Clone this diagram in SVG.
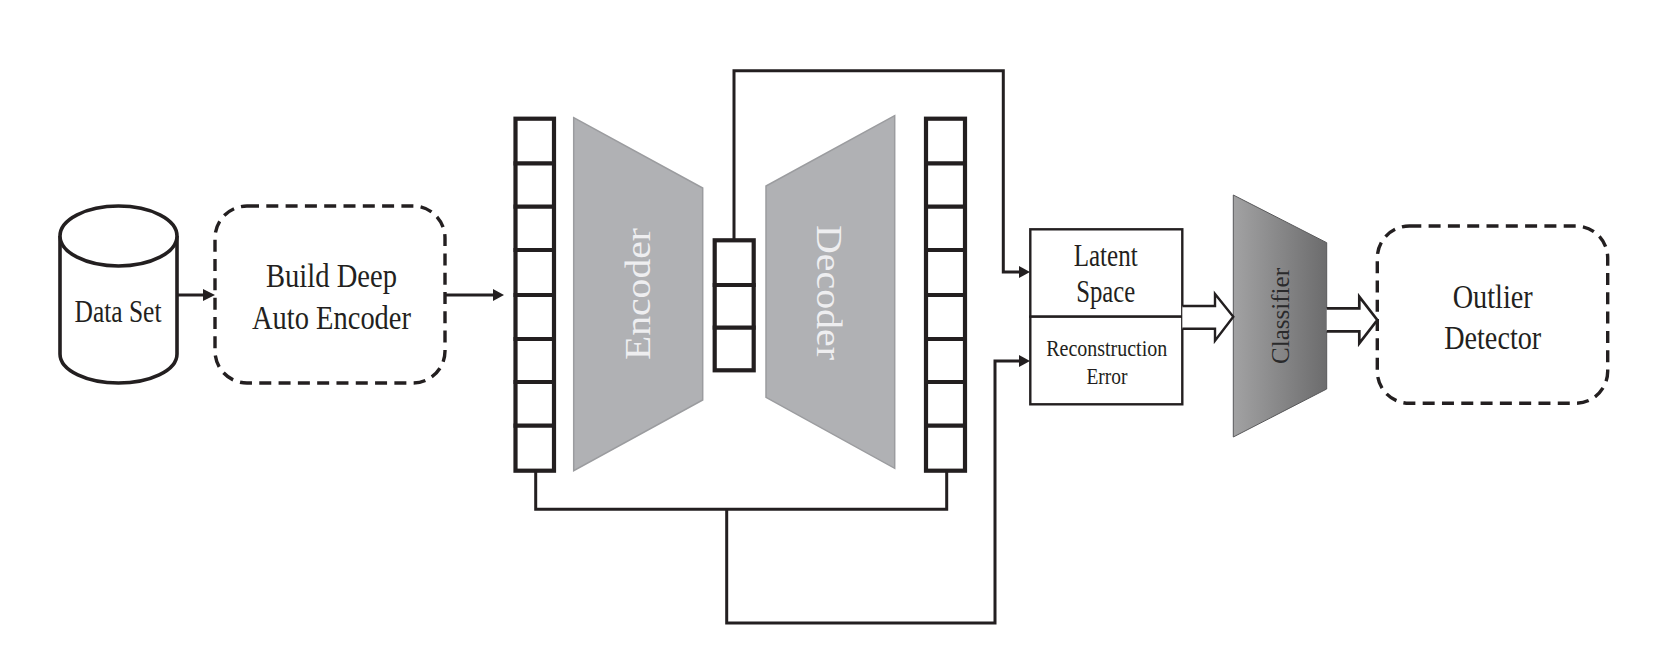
<svg xmlns="http://www.w3.org/2000/svg" width="1676" height="651" viewBox="0 0 1676 651">
<style>
text{font-family:"Liberation Serif","Times New Roman",serif;fill:#231f20;text-anchor:middle}
.l{font-size:34px}
.m{font-size:31px}
.s{font-size:24px}
.w{font-size:35px;fill:#eeeef0}
.c{fill:none;stroke:#231f20;stroke-width:3}
.k{fill:#fff;stroke:#231f20;stroke-width:4.2}
.d{fill:#fff;stroke:#231f20;stroke-width:3.4;stroke-dasharray:12 7.300}
.t{fill:#b0b1b4;stroke:#9b9c9f;stroke-width:1.5}
.b{fill:#fff;stroke:#231f20;stroke-width:2.4}
.h{fill:#231f20;stroke:none}
</style>
<defs>
<linearGradient id="g" x1="0" x2="1" y1="0" y2="0"><stop offset="0" stop-color="#a2a2a3"/><stop offset="1" stop-color="#6c6c6d"/></linearGradient>
</defs>
<g id="data-set">
<path d="M60 236V354C60 371 88 383 118.500 383C149 383 177 371 177 354V236" fill="#fff" stroke="#231f20" stroke-width="3.600"/>
<ellipse cx="118.500" cy="236" rx="58.500" ry="30" fill="#fff" stroke="#231f20" stroke-width="3.600"/>
<text x="118" y="322" style="font-size:32px" textLength="87" lengthAdjust="spacingAndGlyphs">Data Set</text>
</g>
<g id="build">
<rect class="d" x="215" y="206" width="230" height="177" rx="32"/>
<text class="l" x="331.500" y="287" textLength="131" lengthAdjust="spacingAndGlyphs">Build Deep</text>
<text class="l" x="331.500" y="329" textLength="159" lengthAdjust="spacingAndGlyphs">Auto Encoder</text>
</g>
<g id="input-layer">
<rect class="k" x="515.500" y="118.700" width="38.500" height="352"/>
<path class="k" d="M513.500 163.300H556M513.500 206.700H556M513.500 250H556M513.500 295H556M513.500 339H556M513.500 382H556M513.500 425.700H556"/>
</g>
<g id="encoder">
<polygon class="t" points="573.700,117.700 702.700,188 702.700,400 573.700,470.700"/>
<text class="w" transform="translate(650 294) rotate(-90)" textLength="132" lengthAdjust="spacingAndGlyphs">Encoder</text>
</g>
<g id="latent-layer">
<rect class="k" x="714.700" y="240.300" width="39" height="130"/>
<path class="k" d="M712.700 285H755.700M712.700 327.700H755.700"/>
</g>
<g id="decoder">
<polygon class="t" points="894.700,115.700 766,186 766,397.300 894.700,468.300"/>
<text class="w" transform="translate(817 292.500) rotate(90)" textLength="135" lengthAdjust="spacingAndGlyphs">Decoder</text>
</g>
<g id="output-layer">
<rect class="k" x="926" y="118.700" width="39" height="352"/>
<path class="k" d="M924 163.300H967M924 206.700H967M924 250H967M924 295H967M924 339H967M924 382H967M924 425.700H967"/>
</g>
<g id="latent-space">
<rect class="b" x="1030.300" y="229.300" width="152" height="87.400"/>
<text class="m" x="1105.700" y="265.700" textLength="64" lengthAdjust="spacingAndGlyphs">Latent</text>
<text class="m" x="1105.700" y="302.300" textLength="59" lengthAdjust="spacingAndGlyphs">Space</text>
</g>
<g id="reconstruction-error">
<rect class="b" x="1030.300" y="316.700" width="152" height="87.600"/>
<text class="s" x="1106.700" y="355.700" textLength="121" lengthAdjust="spacingAndGlyphs">Reconstruction</text>
<text class="s" x="1107" y="384" textLength="41" lengthAdjust="spacingAndGlyphs">Error</text>
</g>
<g id="classifier">
<polygon points="1233.300,195 1326.700,242.700 1326.700,389 1233.300,437" fill="url(#g)" stroke="#58585a" stroke-width="1"/>
<text transform="translate(1289 316) rotate(-90)" style="font-size:25px;fill:#2a2a2b" textLength="96" lengthAdjust="spacingAndGlyphs">Classifier</text>
</g>
<g id="outlier">
<rect class="d" x="1377.300" y="226" width="230.400" height="177.300" rx="32"/>
<text class="l" x="1492.700" y="307.700" textLength="80" lengthAdjust="spacingAndGlyphs">Outlier</text>
<text class="l" x="1492.700" y="349.300" textLength="97" lengthAdjust="spacingAndGlyphs">Detector</text>
</g>
<g id="connectors">
<path class="c" d="M177 295H204"/><polygon class="h" points="215,295 203,289 203,301"/>
<path class="c" d="M445 295H494"/><polygon class="h" points="504,295 493,289 493,301"/>
<path class="c" d="M734 240V70.700H1003.300V272H1019"/><polygon class="h" points="1030,272 1019,266 1019,278"/>
<path class="c" d="M535.700 471V509.300H946.700V471"/>
<path class="c" d="M726.700 509.300V623H995V361H1019"/><polygon class="h" points="1030,361 1019,355 1019,367"/>
<path class="b" d="M1182.300 306H1215V294L1233.300 316.700L1215 340.700V328.700H1182.300"/>
<path class="b" style="stroke-width:2.700" d="M1326.700 308.300H1359.300V296.700L1377.300 320L1359.300 343.300V331.300H1326.700"/>
</g>
</svg>
